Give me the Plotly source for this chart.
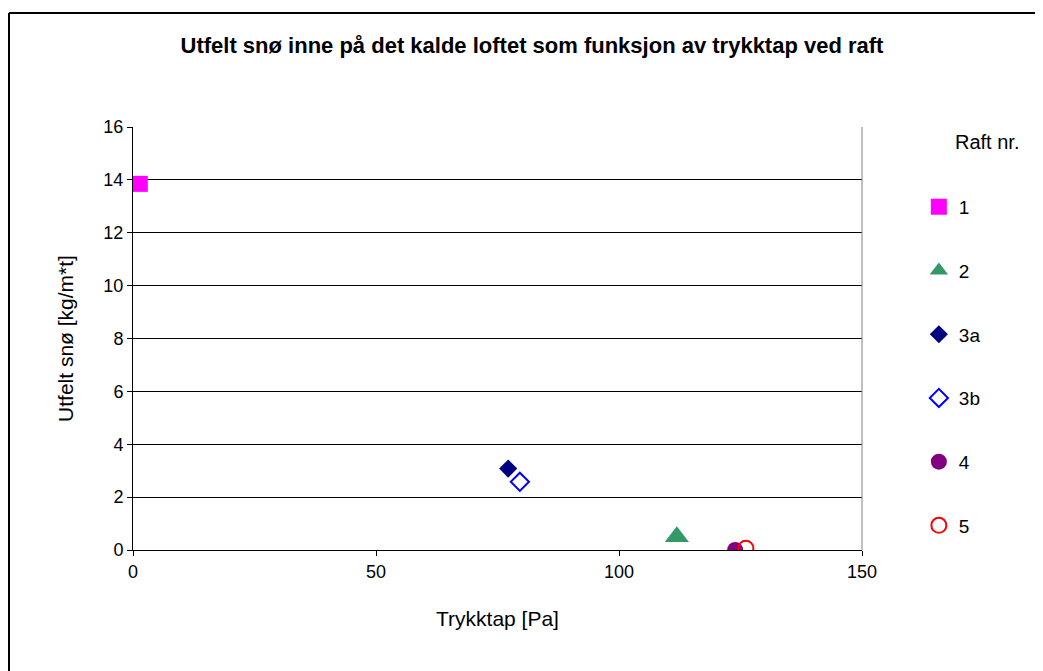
import plotly.graph_objects as go

# Data
series_names = ["1", "2", "3a", "3b", "4", "5"]
x_values = [1.4, 111.9, 77.2, 79.6, 123.9, 126.1]
y_values = [13.85, 0.5, 3.08, 2.58, 0.0, 0.07]
symbols = ["square", "triangle-up", "diamond", "diamond-open", "circle", "circle-open"]
colors = ["#FF00FF", "#339966", "#000080", "#0000FF", "#800080", "#FF0000"]
sizes = [16, 21, 14, 14, 16, 15]

x_ticks = [0, 50, 100, 150]
y_ticks = [0, 2, 4, 6, 8, 10, 12, 14, 16]

FONT = "Liberation Sans, Arial, sans-serif"

# page has an 8px body margin; work in paper pixels = screen pixels - 8
W, H = 1035, 663
L, T, PW, PH = 125, 119, 729, 423

fig = go.Figure()
for i, name in enumerate(series_names):
    is_open = symbols[i].endswith("open")
    fig.add_trace(go.Scatter(
        x=[x_values[i]], y=[y_values[i]], mode="markers", name=name,
        legendgroup=name,
        marker=dict(symbol=symbols[i], color=colors[i], size=sizes[i],
                    line=dict(width=2 if is_open else 0, color=colors[i])),
    ))

x_left = (1 - L) / PW
x_right = (W + 40 - L) / PW
y_top = 1 + (T - 5) / PH
y_bottom = -(H + 40 - T - PH) / PH

fig.update_layout(
    width=W, height=H,
    margin=dict(l=L, r=W - L - PW, t=T, b=H - T - PH),
    paper_bgcolor="white", plot_bgcolor="white",
    font=dict(family=FONT, size=18, color="black"),
    title=dict(text="<b>Utfelt snø inne på det kalde loftet som funksjon av trykktap ved raft</b>",
               x=(532 - 8) / W, xref="container", xanchor="center",
               y=1 - (45 - 8) / H, yref="container", yanchor="middle",
               font=dict(family=FONT, size=22, color="black")),
    showlegend=True,
    legend=dict(x=1.078, xanchor="left", y=1 - (188 - 127) / PH, yanchor="top",
                yref="paper", tracegroupgap=36, itemwidth=30,
                font=dict(family=FONT, size=19), bgcolor="rgba(0,0,0,0)"),
    xaxis=dict(range=[0, 150], tickvals=x_ticks, ticks="outside", ticklen=5,
               tickcolor="black", showgrid=False, zeroline=False,
               showline=True, linecolor="black", linewidth=1, mirror=False,
               tickfont=dict(size=18),
               title=dict(text="Trykktap [Pa]", font=dict(size=21), standoff=30)),
    yaxis=dict(range=[0, 16], tickvals=y_ticks, ticks="outside", ticklen=5,
               tickcolor="black", showgrid=True, gridcolor="black", gridwidth=1,
               zeroline=False, showline=True, linecolor="black", linewidth=1,
               tickfont=dict(size=18),
               title=dict(text="Utfelt snø [kg/m*t]", font=dict(size=21), standoff=24)),
    shapes=[
        # grey plot-area border (right side)
        dict(type="line", xref="paper", yref="paper", x0=1, x1=1, y0=0, y1=1,
             line=dict(color="#808080", width=1)),
        # outer chart border (top and left edges; the rest runs off the image)
        dict(type="line", xref="paper", yref="paper",
             x0=x_left, x1=x_right, y0=y_top, y1=y_top,
             line=dict(color="black", width=2), layer="below"),
        dict(type="line", xref="paper", yref="paper",
             x0=x_left, x1=x_left, y0=y_top, y1=y_bottom,
             line=dict(color="black", width=2), layer="below"),
    ],
    annotations=[
        dict(text="Raft nr.", xref="paper", yref="paper",
             x=(987 - 133) / PW, y=1 - (142 - 127) / PH,
             xanchor="center", yanchor="middle", showarrow=False,
             font=dict(family=FONT, size=20, color="black")),
    ],
)

fig.write_html("out.html")
